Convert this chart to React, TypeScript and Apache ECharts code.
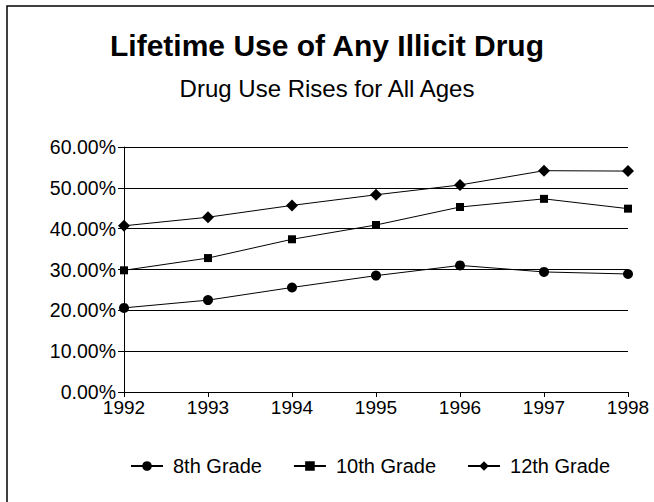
import React, { useEffect, useRef } from "react";
import * as echarts from "echarts";

const years = ["1992", "1993", "1994", "1995", "1996", "1997", "1998"];
const grade8 = [20.6, 22.5, 25.6, 28.5, 31.0, 29.4, 28.9];
const grade10 = [29.8, 32.8, 37.4, 40.9, 45.3, 47.3, 44.9];
const grade12 = [40.7, 42.8, 45.7, 48.3, 50.7, 54.2, 54.1];
const seriesNames = ["8th Grade", "10th Grade", "12th Grade"];

const FONT = "'Liberation Sans', Arial, sans-serif";

export default function App() {
  const ref = useRef<HTMLDivElement>(null);
  useEffect(() => {
    if (!ref.current) return;
    const chart = echarts.init(ref.current, null, { renderer: "svg" });
    const mk = (name: string, data: number[], symbol: string, size: number) => ({
      name,
      type: "line",
      data,
      symbol,
      symbolSize: size,
      showAllSymbol: true,
      lineStyle: { color: "#000", width: 1 },
      itemStyle: { color: "#000" },
      emphasis: { disabled: true },
    });
    chart.setOption({
      animation: false,
      backgroundColor: "#fff",
      textStyle: { fontFamily: FONT },
      title: [
        {
          text: "Lifetime Use of Any Illicit Drug",
          left: "center",
          top: 30,
          padding: 0,
          textStyle: { fontSize: 30, fontWeight: "bold", color: "#000", fontFamily: FONT },
        },
        {
          text: "Drug Use Rises for All Ages",
          left: "center",
          top: 76,
          padding: 0,
          textStyle: { fontSize: 24, fontWeight: "normal", color: "#000", fontFamily: FONT },
        },
      ],
      graphic: [
        {
          type: "rect",
          shape: { x: 7, y: 6, width: 800, height: 700 },
          style: { fill: "none", stroke: "#000", lineWidth: 1.5 },
          silent: true,
        },
      ],
      legend: {
        data: seriesNames,
        left: 130,
        top: 456,
        padding: 0,
        itemWidth: 32,
        itemHeight: 12,
        itemGap: 31,
        textStyle: { fontSize: 20, color: "#000", fontFamily: FONT, padding: [0, 0, 0, 5] },
      },
      grid: { left: 124, right: 26, top: 147, bottom: 110, containLabel: false },
      xAxis: {
        type: "category",
        data: years,
        boundaryGap: false,
        axisLine: { lineStyle: { color: "#000", width: 1 } },
        axisTick: { show: true, length: 5, lineStyle: { color: "#000" } },
        axisLabel: { color: "#000", fontSize: 19, margin: 6, fontFamily: FONT },
        splitLine: { show: false },
      },
      yAxis: {
        type: "value",
        min: 0,
        max: 60,
        interval: 10,
        axisLine: { show: true, lineStyle: { color: "#000", width: 1 } },
        axisTick: { show: true, length: 6, lineStyle: { color: "#000" } },
        axisLabel: {
          color: "#000",
          fontSize: 19.5,
          margin: 8,
          fontFamily: FONT,
          formatter: (v: number) => v.toFixed(2) + "%",
        },
        splitLine: { show: true, lineStyle: { color: "#000", width: 1 } },
      },
      series: [
        mk(seriesNames[0], grade8, "circle", 10),
        mk(seriesNames[1], grade10, "rect", 8),
        mk(seriesNames[2], grade12, "diamond", 12),
      ],
    });
    return () => chart.dispose();
  }, []);
  return (
    <div
      ref={ref}
      style={{ position: "fixed", left: 0, top: 0, width: 654, height: 502, background: "#fff" }}
    />
  );
}
